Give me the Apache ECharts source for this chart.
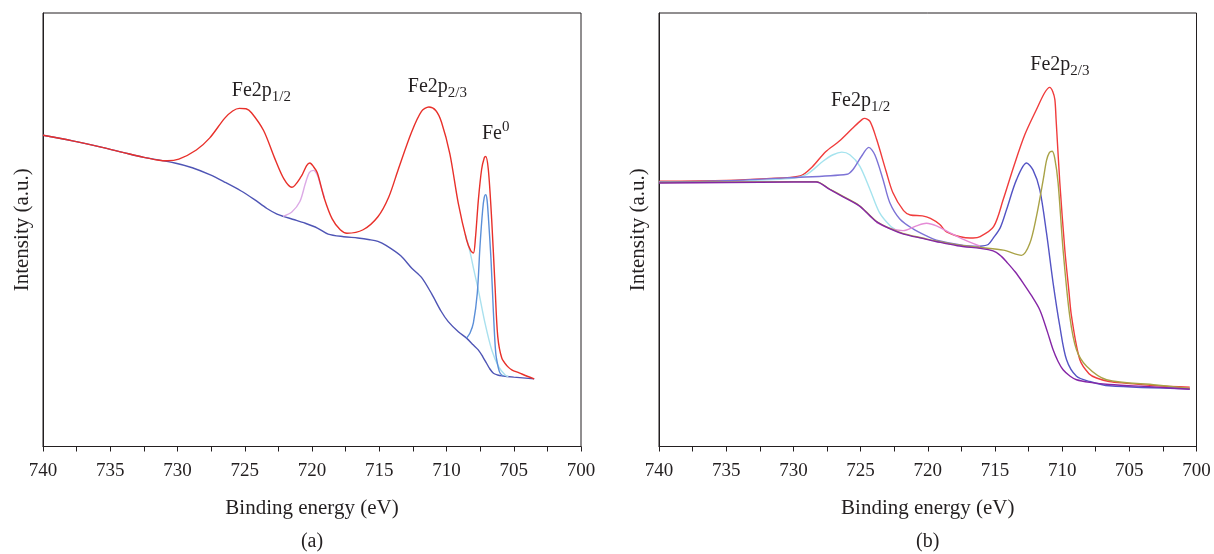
<!DOCTYPE html>
<html>
<head>
<meta charset="utf-8">
<script src="https://cdn.jsdelivr.net/npm/echarts@6/dist/echarts.min.js"></script>
<style>html,body{margin:0;padding:0;background:#fff}#c{width:1214px;height:554px}</style>
</head>
<body>
<div id="c"></div>
<script>
// ---- data: [binding energy (eV), intensity (a.u., 0-100 of axis height)] ----
const xTicks = { min: 700, max: 740, step: 5 };

// Panel (a)
const aEnvelope = [[740,71.8],[737.8,70.5],[735.6,69.0],[734,67.8],[732.5,66.7],[731.5,66.1],[730.75,65.9],[729.9,66.3],[728.6,68.4],[727.6,71.2],[726.5,75.7],[725.9,77.4],[725.4,78.0],[724.9,77.9],[724.5,77.0],[723.6,72.9],[722.8,66.7],[722.1,61.8],[721.5,59.8],[720.8,62.3],[720.4,64.8],[720.16,65.4],[719.9,64.6],[719.6,63.1],[719.1,57.4],[718.5,52.5],[717.9,50.0],[717.4,49.2],[716.2,50.0],[715.1,53.0],[714.3,57.5],[713.6,63.8],[712.6,72.5],[711.86,77.3],[711.31,78.3],[710.8,77.5],[710.37,74.8],[709.75,67.5],[709.13,56.2],[708.51,47.7],[708.2,45.2],[708.0,44.6],[707.85,48.0],[707.63,56.9],[707.39,63.9],[707.19,66.6],[707.09,66.9],[706.89,63.9],[706.64,52.3],[706.39,36.9],[706.19,25.4],[705.89,20.4],[705.5,18.6],[705.15,17.7],[704.6,17.0],[704.0,16.2],[703.48,15.6]];
const aBackground = [[740,71.8],[737.8,70.5],[735.6,69.0],[734,67.8],[732.5,66.7],[730.2,65.4],[728.9,64.3],[727.6,62.7],[726.5,61.0],[725.3,59.0],[724.3,57.0],[723.35,54.9],[722.6,53.6],[722.15,53.1],[721.3,52.3],[720.5,51.5],[719.6,50.4],[718.8,49.0],[717.65,48.4],[716.6,48.1],[715.7,47.7],[715.1,47.3],[714.5,46.4],[713.4,44.0],[712.6,41.2],[711.86,39.0],[711.1,35.2],[710.4,31.2],[709.87,28.8],[709.1,26.4],[708.51,25.0],[708.0,23.4],[707.64,22.3],[707.3,20.7],[707.02,19.2],[706.8,18.0],[706.51,16.9],[706.2,16.5],[705.89,16.3],[705.0,16.0],[703.48,15.6]];
const aSatellite = [[722.15,53.1],[721.5,54.1],[720.9,56.5],[720.5,60.6],[720.2,63.2],[719.9,63.7],[719.6,62.6],[719.4,60.6],[719.07,57.4]];
const aFe23 = [[708.6,49.0],[708.26,45.0],[707.95,40.5],[707.64,36.2],[707.14,28.5],[706.64,22.3],[706.14,18.5],[705.64,16.5],[705.4,16.1]];
const aFe0 = [[708.51,25.0],[708.25,26.2],[708.0,28.5],[707.71,35.4],[707.51,46.2],[707.31,54.6],[707.19,57.5],[707.09,58.1],[706.99,57.0],[706.89,53.1],[706.69,43.1],[706.51,30.8],[706.34,21.6],[706.15,18.2],[706.01,16.9],[705.76,16.2]];

// Panel (b)
const bEnvelope = [[740,61.2],[735,61.4],[732,61.8],[729.5,62.4],[728.6,64.5],[727.6,68.0],[726.6,70.4],[725.6,73.4],[724.9,75.4],[724.7,75.7],[724.3,75.0],[723.8,70.8],[723.1,63.5],[722.6,58.6],[721.8,54.4],[721.3,53.4],[720.4,53.2],[719.8,52.6],[719.1,51.2],[718.6,49.5],[717.3,48.2],[716.63,48.1],[716.1,48.4],[715.1,50.7],[714.39,56.9],[713.6,64.6],[712.78,71.9],[711.9,77.8],[711.3,81.6],[710.92,82.85],[710.7,81.9],[710.54,80.0],[710.45,75.5],[710.17,60.8],[709.8,45.4],[709.5,36.0],[709.3,30.0],[708.68,20.0],[708.0,16.8],[707.44,15.8],[706.5,15.0],[705.2,14.6],[703,14.0],[700.5,13.7]];
const bComp1 = [[740,61.0],[735,61.2],[730.3,61.8],[729,62.8],[727.8,65.8],[727.05,67.3],[726.4,67.9],[725.8,67.3],[725.06,64.7],[724.3,59.3],[723.6,54.0],[722.8,50.9],[722.3,49.8]];
const bComp2 = [[740,61.0],[735,61.3],[730.3,62.0],[726.0,62.8],[725.56,63.9],[724.94,66.9],[724.39,69.0],[723.94,67.3],[723.33,61.6],[722.83,56.3],[722.08,52.5],[721.09,50.2],[720.1,48.6],[719.35,47.6],[717.33,46.4],[716.1,46.2]];
const bSatellite = [[723.82,51.7],[722.83,50.3],[721.84,49.8],[720.84,50.9],[720.1,51.5],[719.35,50.9],[718.3,49.2],[717.3,47.7],[716.1,46.2]];
const bComp3 = [[716.1,46.2],[715.5,46.6],[715.14,48.0],[714.6,50.5],[714.14,54.6],[713.4,61.5],[712.65,65.4],[712.17,63.8],[711.66,59.2],[711.16,49.2],[710.67,37.7],[710.17,27.7],[709.67,20.0],[708.93,16.2],[707.94,15.0],[706.5,14.0],[700.5,13.3]];
const bComp4 = [[740,60.9],[730,61.1],[728.3,61.1],[727.3,59.4],[726.3,57.7],[725.1,55.6],[724.3,53.3],[723.8,51.9],[722.8,50.3],[721.8,49.1],[720.4,48.1],[719.4,47.4],[717.8,46.5],[716.1,45.9],[714.38,45.3],[713.02,44.1],[712.41,46.8],[711.91,53.1],[711.41,61.5],[711.16,66.0],[710.95,67.8],[710.74,68.1],[710.55,66.5],[710.3,60.8],[709.93,45.4],[709.43,30.0],[708.93,22.3],[708.18,18.5],[706.69,15.4],[703,14.2],[700.5,13.4]];
const bBackground = [[740,60.8],[735,60.9],[730,61.0],[728.3,61.0],[727.3,59.3],[726.3,57.6],[725.1,55.5],[724.3,53.2],[723.8,51.8],[722.8,50.2],[721.8,49.0],[720.4,48.0],[719.4,47.3],[717.8,46.3],[716.1,45.7],[715.5,45.4],[714.9,44.8],[714.5,43.8],[714.14,42.6],[713.5,40.3],[712.9,37.7],[712.3,34.9],[711.66,31.5],[711.1,26.5],[710.67,22.3],[710.3,19.6],[709.93,17.7],[709.4,16.2],[708.93,15.4],[707.94,14.8],[706.5,14.3],[703,13.7],[700.5,13.2]];

// Peak annotations [energy, intensity, main, script, type]
const annA = [[723.76,82.0,'Fe2p','1/2','sub'],[710.68,83.1,'Fe2p','2/3','sub'],[706.34,72.2,'Fe','0','sup']];
const annB = [[725.0,79.8,'Fe2p','1/2','sub'],[710.17,88.1,'Fe2p','2/3','sub']];
const captions = ['(a)', '(b)'];

const FONT = 'Liberation Serif';
const INK = '#231f20';
const GRIDS = [
  {left:43, top:13, width:538, height:433.5},
  {left:659, top:13, width:537.5, height:433.5}
];

function xAxis(gi){
  return {
    type:'value', gridIndex:gi, min:xTicks.min, max:xTicks.max, interval:xTicks.step, inverse:true,
    axisLine:{show:true, onZero:false, lineStyle:{color:INK, width:1}},
    axisTick:{show:true, inside:false, length:5, lineStyle:{color:INK}},
    minorTick:{show:true, splitNumber:2, length:5, lineStyle:{color:INK}},
    axisLabel:{fontFamily:FONT, fontSize:19, color:INK, margin:15, showMinLabel:true, showMaxLabel:true},
    splitLine:{show:false},
    name:'Binding energy (eV)', nameLocation:'middle', nameGap:51,
    nameTextStyle:{fontFamily:FONT, fontSize:21, color:INK}
  };
}
function yAxis(gi){
  return {
    type:'value', gridIndex:gi, min:0, max:100,
    axisLine:{show:true, lineStyle:{color:INK, width:1}},
    axisTick:{show:false}, axisLabel:{show:false}, splitLine:{show:false},
    name:'Intensity (a.u.)', nameLocation:'middle', nameGap:10, nameRotate:90,
    nameTextStyle:{fontFamily:FONT, fontSize:21, color:INK}
  };
}
const rich = {
  m:{fontFamily:FONT, fontSize:20, color:INK, lineHeight:28},
  sub:{fontFamily:FONT, fontSize:15, color:INK, lineHeight:14, verticalAlign:'bottom'},
  sup:{fontFamily:FONT, fontSize:15, color:INK, lineHeight:14, verticalAlign:'top'}
};
function marks(list){
  return {
    symbol:'circle', symbolSize:0, silent:true, animation:false,
    label:{show:true, position:'inside', rich:rich},
    data:list.map(a=>({coord:[a[0],a[1]], value:0,
      label:{formatter:'{m|'+a[2]+'}{'+a[4]+'|'+a[3]+'}'}}))
  };
}
function line(name, data, color, gi, extra){
  return Object.assign({
    name, type:'line', xAxisIndex:gi, yAxisIndex:gi, data,
    showSymbol:false, smooth:0.3, silent:true,
    lineStyle:{color, width:1.4}, itemStyle:{color}
  }, extra||{});
}

const chart = echarts.init(document.getElementById('c'), null, {renderer:'canvas'});
chart.setOption({
  animation:false,
  backgroundColor:'#fff',
  grid:GRIDS.map(g=>Object.assign({show:true, borderColor:INK, borderWidth:1}, g)),
  xAxis:[xAxis(0), xAxis(1)],
  yAxis:[yAxis(0), yAxis(1)],
  graphic:captions.map((t,i)=>({type:'text', x:GRIDS[i].left+GRIDS[i].width/2, y:542,
    style:{text:t, font:'20px "Liberation Serif"', fill:INK, align:'center', verticalAlign:'middle'}})),
  series:[
    line('a background', aBackground, '#4f55b5', 0),
    line('a satellite', aSatellite, '#dcaae6', 0),
    line('a Fe2p3/2', aFe23, '#a9e0ee', 0),
    line('a Fe0', aFe0, '#5b8fd8', 0),
    line('a envelope', aEnvelope, '#e8302a', 0, {markPoint:marks(annA)}),
    line('b envelope', bEnvelope, '#f03c3c', 1, {markPoint:marks(annB)}),
    line('b comp1', bComp1, '#a5e3ee', 1),
    line('b comp2', bComp2, '#7d73d6', 1),
    line('b satellite', bSatellite, '#e58bd6', 1),
    line('b comp3', bComp3, '#5454c4', 1),
    line('b comp4', bComp4, '#a9a246', 1),
    line('b background', bBackground, '#8526a6', 1)
  ]
});
</script>
</body>
</html>
